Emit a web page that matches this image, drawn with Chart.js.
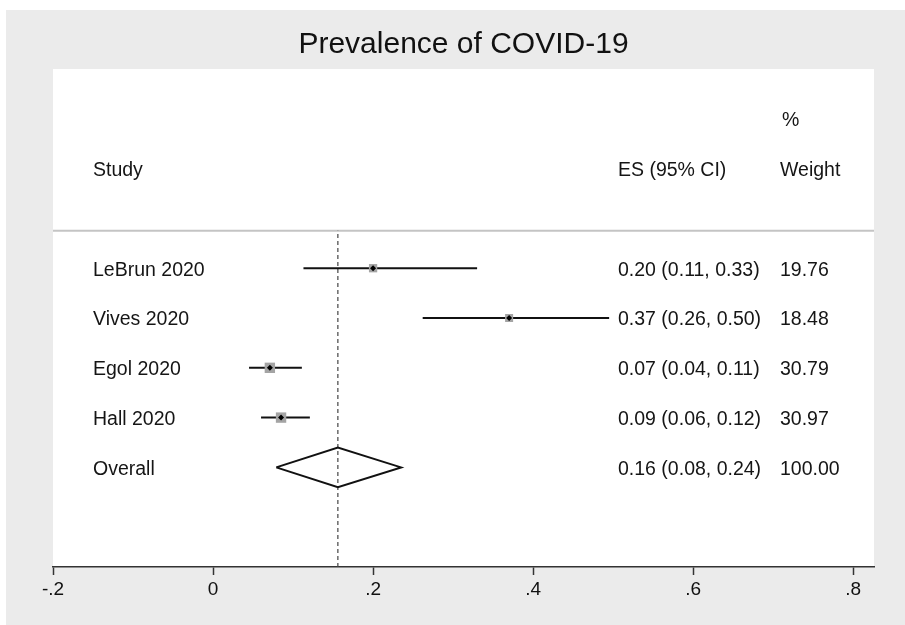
<!DOCTYPE html>
<html>
<head>
<meta charset="utf-8">
<script src="https://cdn.jsdelivr.net/npm/chart.js@4/dist/chart.umd.min.js"></script>
<style>
  body { margin: 0; background: #fff; }
  canvas { display: block; }
</style>
</head>
<body>
<canvas id="forest" width="905" height="625"></canvas>
<script>
// DATA
const studies = ['LeBrun 2020', 'Vives 2020', 'Egol 2020', 'Hall 2020'];
const studyRows = [6, 5, 4, 3];
const es = [0.200, 0.370, 0.071, 0.085];
const ciLow = [0.113, 0.262, 0.045, 0.060];
const ciHigh = [0.330, 0.495, 0.111, 0.121];
const weights = [19.76, 18.48, 30.79, 30.97];
const esLabels = ['0.20 (0.11, 0.33)', '0.37 (0.26, 0.50)', '0.07 (0.04, 0.11)', '0.09 (0.06, 0.12)'];
const weightLabels = ['19.76', '18.48', '30.79', '30.97'];

const overallLabel = 'Overall';
const overallRow = 2;
const overallEs = 0.156;
const overallLow = 0.079;
const overallHigh = 0.235;
const overallEsLabel = '0.16 (0.08, 0.24)';
const overallWeightLabel = '100.00';

const xTicks = [-0.2, 0, 0.2, 0.4, 0.6, 0.8];
const headerRow = 8;
const separatorRow = 6.75;

const FONT = '"Liberation Sans", Arial, Helvetica, sans-serif';

// one line per study CI
const ciSets = studies.map((s, i) => ({
    type: 'scatter',
    data: [{ x: ciLow[i], y: studyRows[i] }, { x: ciHigh[i], y: studyRows[i] }],
    showLine: true,
    borderColor: '#111',
    borderWidth: 2,
    pointRadius: 0,
    order: 2
}));

const boxSet = {
    type: 'scatter',
    data: es.map((v, i) => ({ x: v, y: studyRows[i] })),
    pointStyle: 'rect',
    pointRadius: weights.map(w => 1.32 * Math.sqrt(w)),
    backgroundColor: '#a4a4a4',
    borderWidth: 0,
    order: 1
};

const dotSet = {
    type: 'scatter',
    data: es.map((v, i) => ({ x: v, y: studyRows[i] })),
    pointStyle: 'rectRot',
    pointRadius: 3,
    backgroundColor: '#000',
    borderWidth: 0,
    order: 0
};

const diamondSet = {
    type: 'scatter',
    data: [
        { x: overallLow, y: overallRow },
        { x: overallEs, y: overallRow + 0.4 },
        { x: overallHigh, y: overallRow },
        { x: overallEs, y: overallRow - 0.4 },
        { x: overallLow, y: overallRow }
    ],
    showLine: true,
    borderColor: '#111',
    borderWidth: 2,
    pointRadius: 0,
    order: 3
};

const refLineSet = {
    type: 'scatter',
    data: [{ x: overallEs, y: 0 }, { x: overallEs, y: separatorRow }],
    showLine: true,
    borderColor: '#444',
    borderWidth: 1.2,
    borderDash: [4, 3],
    pointRadius: 0,
    order: 4
};

// background panels, header rule and text columns
const forestDecor = {
    id: 'forestDecor',
    beforeDraw(chart) {
        const { ctx, chartArea: a } = chart;
        ctx.save();
        ctx.fillStyle = '#fff';
        ctx.fillRect(0, 0, chart.width, chart.height);
        ctx.fillStyle = '#ebebeb';
        ctx.fillRect(6, 10, chart.width - 6, chart.height - 10);
        ctx.fillStyle = '#fff';
        ctx.fillRect(a.left, a.top, a.right - a.left, a.bottom - a.top);
        ctx.restore();
    },
    beforeDatasetsDraw(chart) {
        const { ctx, chartArea: a, scales: { y } } = chart;
        const sy = y.getPixelForValue(separatorRow);
        ctx.save();
        ctx.strokeStyle = '#c4c4c4';
        ctx.lineWidth = 2;
        ctx.beginPath();
        ctx.moveTo(a.left, sy);
        ctx.lineTo(a.right, sy);
        ctx.stroke();
        ctx.restore();
    },
    afterDatasetsDraw(chart) {
        const { ctx, chartArea: a, scales: { y } } = chart;
        const colStudy = a.left + 40;
        const colEs = a.left + 565;
        const colW = a.left + 727;
        const dy = 2; // text sits a touch below row centre
        ctx.save();
        ctx.font = '19.5px ' + FONT;
        ctx.fillStyle = '#151515';
        ctx.textBaseline = 'middle';
        ctx.textAlign = 'left';

        const hy = y.getPixelForValue(headerRow) + dy;
        ctx.fillText('Study', colStudy, hy);
        ctx.fillText('ES (95% CI)', colEs, hy);
        ctx.fillText('Weight', colW, hy);
        ctx.fillText('%', colW + 2, y.getPixelForValue(headerRow + 1) + dy);

        studies.forEach((s, i) => {
            const py = y.getPixelForValue(studyRows[i]) + dy;
            ctx.fillText(s, colStudy, py);
            ctx.fillText(esLabels[i], colEs, py);
            ctx.fillText(weightLabels[i], colW, py);
        });

        const oy = y.getPixelForValue(overallRow) + dy;
        ctx.fillText(overallLabel, colStudy, oy);
        ctx.fillText(overallEsLabel, colEs, oy);
        ctx.fillText(overallWeightLabel, colW, oy);
        ctx.restore();
    }
};

new Chart(document.getElementById('forest'), {
    type: 'scatter',
    data: {
        datasets: [...ciSets, boxSet, dotSet, diamondSet, refLineSet]
    },
    options: {
        responsive: false,
        animation: false,
        events: [],
        layout: { padding: { left: 53, right: 31, top: 0, bottom: 0 } },
        plugins: {
            legend: { display: false },
            tooltip: { enabled: false },
            title: {
                display: true,
                text: 'Prevalence of COVID-19',
                color: '#111',
                font: { family: FONT, size: 30, weight: 'normal', lineHeight: 1.2 },
                padding: { top: 27, bottom: 6 }
            }
        },
        scales: {
            x: {
                type: 'linear',
                min: -0.2,
                max: 0.826,
                afterBuildTicks: scale => {
                    scale.ticks = xTicks.map(v => ({ value: v }));
                },
                afterFit: scale => { scale.height = 58; },
                grid: {
                    drawOnChartArea: false,
                    drawTicks: true,
                    tickLength: 8,
                    tickWidth: 1.5,
                    tickColor: '#333'
                },
                border: { display: true, color: '#333', width: 1.5 },
                ticks: {
                    color: '#111',
                    padding: 3,
                    maxRotation: 0,
                    font: { family: FONT, size: 19 },
                    callback: v => v === 0 ? '0' : v.toFixed(1).replace('0.', '.')
                }
            },
            y: {
                type: 'linear',
                display: false,
                min: 0,
                max: 10
            }
        }
    },
    plugins: [forestDecor]
});
</script>
</body>
</html>
